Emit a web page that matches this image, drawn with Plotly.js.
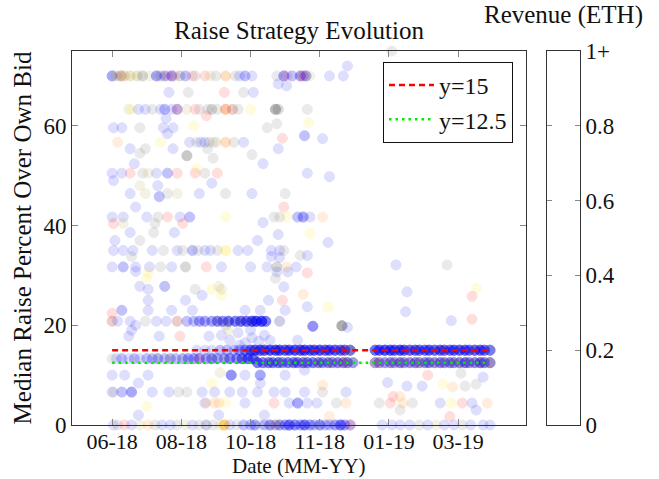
<!DOCTYPE html>
<html><head><meta charset="utf-8">
<script src="https://cdn.plot.ly/plotly-3.0.1.min.js"></script>
<style>html,body{margin:0;padding:0;background:#fff}#chart{width:659px;height:479px}</style>
</head><body><div id="chart"></div>
<script>
// ---------- axis / tick data ----------
const xTickDates  = ["2018-06-25","2018-08-14","2018-10-03","2018-11-22","2019-01-11","2019-03-02"];
const xTickLabels = ["06-18","08-18","10-18","11-18","01-19","03-19"];
const yTickValues = [0,20,40,60];
const revTickValues = [0,0.2,0.4,0.6,0.8,1];
const revTickLabels = ["0","0.2","0.4","0.6","0.8","1+"];
const refLevels = [15, 12.5];
const refNames  = ["y=15","y=12.5"];
const refSpan   = ["2018-06-25","2019-03-25"];

// ---------- bids on repeated levels: [date, revenue (ETH), number of bids] ----------
const row70 = [["2018-06-25",0.02,3],["2018-06-28",0.42,2],["2018-07-01",0.3,2],["2018-07-02",0.98,1],["2018-07-04",0.42,2],["2018-07-08",0.42,2],["2018-07-13",0.42,2],["2018-07-17",0.3,2],["2018-07-22",0.42,1],["2018-07-27",0.02,3],["2018-07-30",0.3,2],["2018-08-02",0.02,2],["2018-08-04",0.98,1],["2018-08-07",0.02,3],["2018-08-09",0.98,1],["2018-08-13",0.3,2],["2018-08-17",0.02,2],["2018-08-22",0.98,1],["2018-08-24",0.3,1],["2018-08-31",0.98,1],["2018-09-04",0.42,1],["2018-09-08",0.3,1],["2018-09-15",0.75,2],["2018-09-22",0.3,1],["2018-09-25",0.02,1],["2018-09-29",0.02,2],["2018-10-04",0.02,1],["2018-10-22",0.3,1],["2018-10-27",0.02,3],["2018-10-29",0.98,1],["2018-11-02",0.02,2],["2018-11-08",0.02,3],["2018-11-10",0.98,2],["2018-11-12",0.02,3],["2018-11-15",0.42,1],["2018-11-29",0.02,1],["2018-12-09",0.02,1]];
const row63 = [["2018-07-07",0.42,1],["2018-07-09",0.55,1],["2018-07-14",0.02,1],["2018-07-19",0.02,1],["2018-07-24",0.3,1],["2018-07-30",0.02,1],["2018-08-02",0.02,2],["2018-08-07",0.02,1],["2018-08-11",0.02,2],["2018-08-11",0.98,1],["2018-08-18",0.42,1],["2018-08-24",0.98,1],["2018-08-27",0.3,1],["2018-09-02",0.3,1],["2018-09-05",0.3,2],["2018-09-09",0.3,1],["2018-09-15",0.75,2],["2018-09-15",0.98,1],["2018-09-20",0.98,1],["2018-09-20",0.3,1],["2018-09-24",0.3,1],["2018-10-03",0.55,1],["2018-10-21",0.3,4],["2018-10-23",0.3,2],["2018-11-13",0.3,1]];
const row57 = [["2018-06-29",0.75,1],["2018-07-30",0.55,1],["2018-08-20",0.02,1],["2018-08-25",0.3,1],["2018-08-28",0.02,1],["2018-08-31",0.02,1],["2018-09-03",0.3,1],["2018-09-06",0.42,1],["2018-09-08",0.3,1],["2018-09-15",0.75,2],["2018-09-21",0.3,1],["2018-09-28",0.02,1]];
const row50 = [["2018-06-25",0.02,1],["2018-07-02",0.02,1],["2018-07-08",0.98,1],["2018-07-17",0.3,1],["2018-07-21",0.42,1],["2018-07-27",0.02,1],["2018-08-04",0.02,2],["2018-08-11",0.98,1],["2018-08-24",0.98,1],["2018-08-31",0.3,1],["2018-09-09",0.98,1],["2018-11-13",0.02,1]];
const row42 = [["2018-06-25",0.02,1],["2018-07-03",0.02,1],["2018-07-20",0.02,1],["2018-07-28",0.3,1],["2018-08-04",0.98,1],["2018-08-13",0.02,1],["2018-08-20",0.02,2],["2018-09-15",0.55,1],["2018-10-20",0.3,1],["2018-10-24",0.3,1],["2018-10-29",0.55,1],["2018-11-06",0.02,2],["2018-11-10",0.02,3],["2018-11-15",0.02,1],["2018-11-24",0.75,1]];
const row35 = [["2018-06-26",0.02,1],["2018-07-03",0.02,1],["2018-07-10",0.02,1],["2018-07-24",0.02,1],["2018-08-01",0.3,1],["2018-08-11",0.02,1],["2018-08-15",0.3,1],["2018-08-22",0.02,2],["2018-08-26",0.3,1],["2018-08-31",0.02,1],["2018-09-04",0.02,1],["2018-09-09",0.3,1],["2018-09-15",0.55,2],["2018-09-24",0.02,1],["2018-10-01",0.02,1],["2018-10-18",0.02,1],["2018-10-24",0.02,1],["2018-10-27",0.3,1]];
const row32 = [["2018-06-25",0.02,1],["2018-07-03",0.02,2],["2018-07-12",0.02,1],["2018-07-22",0.02,1],["2018-07-30",0.3,1],["2018-08-07",0.02,1],["2018-08-17",0.3,2],["2018-09-01",0.98,1],["2018-09-12",0.02,1],["2018-10-03",0.02,1],["2018-10-15",0.02,1],["2018-10-22",0.3,2],["2018-10-29",0.75,1],["2018-11-05",0.02,1]];
const row21 = [["2018-06-25",0.98,1],["2018-06-25",0.3,1],["2018-06-29",0.02,1],["2018-07-08",0.02,1],["2018-07-19",0.3,1],["2018-07-27",0.02,1],["2018-08-03",0.02,1],["2018-08-11",0.3,1],["2018-08-11",0.98,1],["2018-08-18",0.02,2],["2018-08-23",0.02,2],["2018-08-27",0.02,3],["2018-08-31",0.02,3],["2018-09-05",0.02,3],["2018-09-09",0.02,4],["2018-09-09",0.3,1],["2018-09-13",0.02,4],["2018-09-17",0.02,5],["2018-09-17",0.3,1],["2018-09-22",0.02,5],["2018-09-26",0.02,6],["2018-09-26",0.42,1],["2018-09-30",0.02,6],["2018-10-04",0.02,7],["2018-10-04",0.3,1],["2018-10-07",0.02,8],["2018-10-11",0.02,8],["2018-10-14",0.02,5],["2018-10-24",0.02,1],["2018-10-24",0.3,1]];
const row15 = [["2018-08-25",0.02,1],["2018-08-31",0.02,1],["2018-09-05",0.02,1],["2018-09-11",0.02,2],["2018-09-16",0.02,2],["2018-09-21",0.02,2],["2018-09-25",0.02,3],["2018-09-29",0.02,4],["2018-10-03",0.02,6],["2018-10-06",0.02,7],["2018-10-06",0.3,1],["2018-10-10",0.02,8],["2018-10-13",0.02,8],["2018-10-13",0.75,1],["2018-10-17",0.02,8],["2018-10-21",0.02,8],["2018-10-21",0.3,1],["2018-10-24",0.02,8],["2018-10-28",0.02,7],["2018-10-28",0.42,1],["2018-10-31",0.02,7],["2018-11-04",0.02,8],["2018-11-08",0.02,8],["2018-11-08",0.75,1],["2018-11-11",0.02,8],["2018-11-15",0.02,7],["2018-11-18",0.02,7],["2018-11-18",0.3,1],["2018-11-22",0.02,8],["2018-11-26",0.02,7],["2018-11-26",0.75,1],["2018-11-29",0.02,7],["2018-12-03",0.02,7],["2018-12-07",0.02,6],["2018-12-07",0.3,1],["2018-12-10",0.02,6],["2018-12-10",0.98,1],["2018-12-14",0.02,5],["2018-12-14",0.3,2],["2019-01-01",0.02,6],["2019-01-04",0.02,7],["2019-01-08",0.02,8],["2019-01-12",0.02,8],["2019-01-15",0.02,7],["2019-01-19",0.02,8],["2019-01-19",0.3,1],["2019-01-22",0.02,7],["2019-01-26",0.02,7],["2019-01-26",0.75,1],["2019-01-30",0.02,7],["2019-02-02",0.02,6],["2019-02-02",0.3,1],["2019-02-06",0.02,6],["2019-02-09",0.02,7],["2019-02-13",0.02,6],["2019-02-13",0.3,1],["2019-02-17",0.02,7],["2019-02-20",0.02,6],["2019-02-20",0.98,1],["2019-02-24",0.02,6],["2019-02-27",0.02,7],["2019-03-03",0.02,7],["2019-03-03",0.3,1],["2019-03-07",0.02,7],["2019-03-10",0.02,6],["2019-03-14",0.02,7],["2019-03-14",0.75,1],["2019-03-18",0.02,7],["2019-03-21",0.02,6],["2019-03-25",0.02,5],["2019-03-25",0.3,1]];
const row13 = [["2018-06-25",0.3,1],["2018-06-28",0.02,1],["2018-07-02",0.02,2],["2018-07-07",0.02,1],["2018-07-11",0.02,2],["2018-07-15",0.02,1],["2018-07-20",0.02,2],["2018-07-24",0.02,2],["2018-07-28",0.02,2],["2018-07-28",0.3,1],["2018-08-02",0.02,2],["2018-08-06",0.02,2],["2018-08-06",0.42,1],["2018-08-10",0.02,2],["2018-08-15",0.02,2],["2018-08-15",0.3,1],["2018-08-19",0.02,3],["2018-08-23",0.02,3],["2018-08-27",0.02,3],["2018-08-27",0.98,1],["2018-09-01",0.02,3],["2018-09-05",0.02,3],["2018-09-05",0.3,1],["2018-09-09",0.02,3],["2018-09-14",0.02,3],["2018-09-14",0.42,1],["2018-09-18",0.02,4],["2018-09-23",0.02,4],["2018-09-27",0.02,5],["2018-09-27",0.3,1],["2018-10-01",0.02,6],["2018-10-05",0.02,6]];
const row12 = [["2018-10-08",0.02,5],["2018-10-08",0.3,1],["2018-10-12",0.02,5],["2018-10-16",0.02,5],["2018-10-16",0.75,1],["2018-10-19",0.02,5],["2018-10-23",0.02,5],["2018-10-23",0.3,1],["2018-10-26",0.02,4],["2018-10-26",0.42,1],["2018-10-30",0.02,5],["2018-11-03",0.02,4],["2018-11-03",0.3,2],["2018-11-06",0.02,5],["2018-11-10",0.02,5],["2018-11-10",0.75,1],["2018-11-13",0.02,4],["2018-11-13",0.3,1],["2018-11-17",0.02,5],["2018-11-21",0.02,4],["2018-11-21",0.75,1],["2018-11-21",0.3,1],["2018-11-24",0.02,4],["2018-11-28",0.02,4],["2018-11-28",0.3,1],["2018-12-01",0.02,4],["2018-12-01",0.75,1],["2018-12-05",0.02,4],["2018-12-05",0.3,1],["2018-12-09",0.02,4],["2018-12-09",0.98,1],["2018-12-12",0.02,4],["2018-12-12",0.3,1],["2018-12-12",0.75,1],["2018-12-16",0.02,3],["2018-12-16",0.3,1],["2019-01-01",0.02,3],["2019-01-01",0.3,1],["2019-01-01",0.75,1],["2019-01-04",0.02,3],["2019-01-04",0.98,1],["2019-01-08",0.02,3],["2019-01-08",0.3,1],["2019-01-12",0.02,4],["2019-01-12",0.75,1],["2019-01-15",0.02,3],["2019-01-15",0.3,1],["2019-01-19",0.02,4],["2019-01-19",0.98,1],["2019-01-22",0.02,3],["2019-01-22",0.3,1],["2019-01-26",0.02,4],["2019-01-26",0.75,1],["2019-01-30",0.02,4],["2019-01-30",0.3,1],["2019-02-02",0.02,3],["2019-02-02",0.75,1],["2019-02-02",0.3,1],["2019-02-06",0.02,4],["2019-02-06",0.42,1],["2019-02-09",0.02,4],["2019-02-09",0.3,1],["2019-02-13",0.02,4],["2019-02-13",0.75,1],["2019-02-17",0.02,4],["2019-02-17",0.3,1],["2019-02-20",0.02,4],["2019-02-20",0.75,1],["2019-02-24",0.02,4],["2019-02-24",0.3,1],["2019-02-27",0.02,4],["2019-02-27",0.75,1],["2019-03-03",0.02,4],["2019-03-03",0.3,1],["2019-03-03",0.42,1],["2019-03-07",0.02,5],["2019-03-07",0.3,1],["2019-03-10",0.02,4],["2019-03-10",0.75,1],["2019-03-14",0.02,4],["2019-03-14",0.3,1],["2019-03-18",0.02,5],["2019-03-18",0.98,1],["2019-03-21",0.02,4],["2019-03-21",0.3,1],["2019-03-25",0.02,4],["2019-03-25",0.75,1],["2019-03-25",0.3,1]];
const row0 = [["2018-06-26",0.02,1],["2018-06-29",0.3,1],["2018-07-04",0.98,1],["2018-07-09",0.02,1],["2018-07-15",0.42,1],["2018-07-21",0.75,1],["2018-07-26",0.3,1],["2018-07-31",0.02,1],["2018-08-06",0.02,1],["2018-08-11",0.3,1],["2018-08-17",0.42,1],["2018-08-22",0.02,1],["2018-08-27",0.3,1],["2018-09-01",0.02,1],["2018-09-01",0.3,1],["2018-09-06",0.3,1],["2018-09-11",0.42,1],["2018-09-14",0.75,3],["2018-09-14",0.55,2],["2018-09-18",0.02,1],["2018-09-23",0.3,1],["2018-09-28",0.02,2],["2018-10-03",0.02,2],["2018-10-06",0.02,3],["2018-10-10",0.3,1],["2018-10-13",0.02,2],["2018-10-17",0.02,3],["2018-10-17",0.3,1],["2018-10-21",0.02,2],["2018-10-21",0.75,1],["2018-10-24",0.3,2],["2018-10-24",0.02,2],["2018-10-28",0.02,3],["2018-10-31",0.02,5],["2018-11-04",0.02,4],["2018-11-08",0.02,3],["2018-11-11",0.02,5],["2018-11-15",0.02,3],["2018-11-18",0.02,2],["2018-11-22",0.02,3],["2018-11-22",0.3,1],["2018-11-26",0.02,2],["2018-11-29",0.02,2],["2018-12-03",0.02,3],["2018-12-07",0.02,5],["2018-12-10",0.02,3],["2018-12-14",0.02,2],["2018-12-14",0.98,1],["2019-01-06",0.02,1],["2019-01-13",0.02,1],["2019-01-19",0.02,1],["2019-01-26",0.02,1],["2019-02-02",0.3,1],["2019-02-08",0.02,1],["2019-02-14",0.42,1],["2019-02-20",0.02,1],["2019-02-27",0.02,1],["2019-03-05",0.3,1],["2019-03-11",0.02,1],["2019-03-20",0.02,1],["2019-03-25",0.02,1]];
const rowLevels = [70, 63.3, 56.7, 50.5, 41.7, 35, 31.7, 20.8, 15, 13.3, 12.5, 0];

// ---------- scattered bids: [date, raise %, revenue (ETH), number of bids] ----------
const scattered = [
["2018-12-12",72,0.02,1],["2019-01-13",75,0.3,1],["2018-08-05",66.7,0.02,1],["2018-08-19",66.7,0.3,1],["2018-09-14",66.7,0.98,1],["2018-09-28",66.7,0.3,1],["2018-10-05",66.7,0.02,1],["2018-10-23",68.4,0.02,1],["2018-10-29",68,0.02,1],
["2018-09-01",62,0.98,1],["2018-08-03",61.5,0.02,1],["2018-06-26",59.6,0.02,1],["2018-07-02",59.6,0.02,1],["2018-07-15",59.6,0.3,1],["2018-08-01",59.6,0.02,1],["2018-08-08",59.6,0.02,1],["2018-08-23",60,0.55,1],["2018-10-15",59.6,0.3,1],["2018-10-22",60.4,0.3,1],["2018-11-14",60.6,0.55,1],
["2018-08-04",58.4,0.02,1],["2018-10-26",57.5,0.98,1],["2018-11-11",58,0.02,2],["2018-11-24",57.4,0.02,1],["2018-07-08",55.4,0.02,1],["2018-07-19",55.4,0.3,1],["2018-08-08",55.4,0.02,1],["2018-09-02",55.4,0.3,1],["2018-10-23",55.4,0.02,1],
["2018-08-18",54,0.3,3],["2018-07-15",54.5,0.3,1],["2018-09-06",53.5,0.3,1],["2018-10-04",54.2,0.3,1],["2018-10-12",52.4,0.02,1],["2018-07-11",52.4,0.02,1],["2018-08-25",51.4,0.55,1],["2018-11-29",49.8,0.02,1],
["2018-06-26",49,0.02,1],["2018-09-05",48.5,0.02,1],["2018-07-15",48,0.42,1],["2018-07-28",48,0.02,1],["2018-07-08",46.4,0.02,1],["2018-07-19",46.4,0.42,1],["2018-07-29",45.8,0.02,2],["2018-08-04",46.4,0.3,1],["2018-08-11",46.4,0.42,1],["2018-08-27",46.4,0.02,1],["2018-09-15",46.4,0.3,1],["2018-10-04",46.4,0.02,1],["2018-10-28",46.4,0.3,1],
["2018-07-12",43.7,0.02,1],["2018-10-27",43.7,0.98,1],["2018-06-26",40.4,0.98,1],["2018-07-03",40.4,0.42,1],["2018-07-26",40.4,0.3,1],["2018-08-15",40.4,0.98,1],["2018-10-12",40.6,0.02,1],
["2018-07-08",38.6,0.02,1],["2018-07-25",38.6,0.3,1],["2018-08-09",38.6,0.02,1],["2018-10-23",38.2,0.02,1],["2018-11-15",38.4,0.55,1],["2018-06-27",37,0.02,1],["2018-07-15",37,0.3,1],["2018-10-08",37,0.02,1],["2018-11-28",36.6,0.02,1],
["2018-10-24",33.6,0.02,1],["2018-11-08",34,0.3,1],["2018-11-13",34,0.02,1],["2018-07-09",33.8,0.3,1],["2018-10-18",33.8,0.02,1],["2018-07-12",30.8,0.02,1],["2018-07-21",30.5,0.55,1],["2018-10-22",30.7,0.02,1],["2018-10-30",30.7,0.02,1],["2018-11-13",30.5,0.98,1],
["2018-07-20",29.4,0.55,1],["2018-10-21",29.4,0.3,1],["2018-07-15",27.8,0.02,1],["2018-08-02",27.8,0.02,2],["2018-09-10",27.8,0.42,1],["2018-10-27",27.7,0.02,1],["2018-11-10",26.2,0.75,1],["2018-07-21",27.2,0.02,1],["2018-08-24",27.2,0.3,1],["2018-09-05",27.2,0.55,1],["2018-09-12",27.2,0.42,1],
["2018-08-29",26,0.02,1],["2018-09-12",26,0.55,1],["2018-07-21",25,0.02,1],["2018-08-17",25,0.02,1],["2018-10-16",25,0.02,1],["2018-10-26",25,0.98,1],
["2018-07-02",23,0.02,2],["2018-07-21",23,0.02,1],["2018-08-07",23,0.02,1],["2018-08-22",23,0.02,1],["2018-09-29",23,0.02,1],["2018-10-10",23,0.02,1],["2018-10-28",23,0.02,1],["2018-11-13",23.7,0.02,1],["2018-11-28",23.6,0.55,1],["2018-06-25",22.4,0.98,1],
["2019-01-16",32.1,0.02,1],["2019-02-22",32.1,0.3,1],["2019-01-24",26.7,0.02,1],["2019-03-15",27.4,0.55,1],["2019-03-12",25.8,0.98,1],["2019-01-23",22.7,0.02,1],["2019-02-25",20.9,0.02,1],["2019-03-12",21.2,0.98,1],
["2018-11-17",19.8,0.02,4],["2018-12-08",19.9,0.3,5],["2018-12-12",19.6,0.02,1],["2018-07-12",20,0.02,1],["2018-09-15",20,0.3,1],["2018-07-09",19,0.02,1],["2018-07-07",17.8,0.02,1],["2018-07-29",17.8,0.02,1],["2018-08-13",17.8,0.98,1],["2018-09-03",17.8,0.02,1],["2018-11-06",17,0.02,1],
["2018-09-12",18,0.02,1],["2018-09-18",17,0.02,1],["2018-09-24",18.5,0.02,1],["2018-09-29",16.5,0.02,1],["2018-10-04",17.5,0.02,1],["2018-10-09",16.8,0.02,1],["2018-10-13",18,0.02,1],["2018-10-17",17,0.02,1],["2018-09-25",16,0.02,1],["2018-09-17",19,0.42,1],["2018-10-03",19,0.02,1],
["2018-06-25",10,0.02,1],["2018-07-04",10,0.02,1],["2018-07-21",10,0.02,1],["2018-09-19",10,0.02,4],["2018-09-29",10,0.02,1],["2018-10-10",10,0.02,3],["2018-10-28",10,0.02,1],["2018-09-11",10.5,0.42,1],["2018-11-11",11,0.02,1],["2019-02-08",10,0.98,1],["2019-03-04",10.4,0.3,1],["2019-03-20",9.6,0.02,1],
["2018-07-14",8.4,0.02,1],["2018-09-05",8.4,0.55,1],["2018-10-10",8.4,0.02,1],["2018-11-24",8,0.75,1],["2019-01-10",8.5,0.02,1],["2019-01-24",7.8,0.02,1],["2019-02-04",7.8,0.02,1],["2019-02-19",8.2,0.55,1],["2019-02-26",7.6,0.75,1],["2019-03-07",7.8,0.3,1],["2019-03-15",8.2,0.3,1],
["2018-06-25",6.6,0.02,1],["2018-06-26",6.6,0.3,1],["2018-07-02",6.6,0.02,2],["2018-07-09",6.6,0.02,3],["2018-07-24",6.6,0.02,1],["2018-08-05",6.6,0.02,1],["2018-08-12",6.6,0.3,1],["2018-08-18",6.6,0.3,1],["2018-08-29",6.6,0.02,1],["2018-09-07",6.6,0.02,1],["2018-09-18",6.6,0.02,1],["2018-09-27",6.6,0.02,1],["2018-10-08",6.6,0.02,1],["2018-10-20",6.6,0.02,1],["2018-10-28",6.6,0.02,1],["2018-11-11",6.6,0.02,1],["2018-11-24",6.6,0.3,1],["2018-12-11",6.6,0.02,1],
["2018-08-31",4.4,0.02,1],["2018-09-01",4.4,0.75,1],["2018-09-07",4.4,0.75,1],["2018-09-10",4.4,0.75,1],["2018-09-15",4.4,0.55,1],["2018-09-29",4.4,0.02,1],["2018-10-20",4.4,0.98,1],["2018-10-31",4.4,0.02,1],["2018-11-06",4.4,0.02,3],["2018-11-13",4.4,0.02,1],["2018-11-20",4.4,0.02,1],["2018-12-04",4.4,0.3,1],["2018-12-11",4.4,0.75,1],
["2019-01-04",4.4,0.3,1],["2019-01-12",4.4,0.98,1],["2019-01-21",4.4,0.75,1],["2019-01-28",4.4,0.3,1],["2019-02-17",4.4,0.02,1],["2019-02-25",4.4,0.55,1],["2019-03-05",4.4,0.98,1],["2019-03-12",4.4,0.02,1],["2019-03-23",4.4,0.75,1],
["2018-07-20",3.7,0.55,1],["2019-01-14",5.7,0.98,1],["2019-01-19",5.7,0.75,1],["2018-07-14",2,0.02,1],["2018-09-10",2,0.02,1],["2018-10-13",2,0.02,1],["2019-01-19",3,0.3,1],["2019-03-15",3,0.02,1],["2019-02-24",1.7,0.98,1],["2018-11-29",1.7,0.75,1]
];

// ---------- build marker arrays ----------
const bidX = [], bidY = [], bidRev = [];
function pushBid(d, v, rev, n) { for (let k = 0; k < n; k++) { bidX.push(d); bidY.push(v); bidRev.push(rev); } }
const levelRows = [row70, row63, row57, row50, row42, row35, row32, row21, row15, row13, row12, row0];
levelRows.forEach((rows, i) => rows.forEach(([d, rev, n]) => pushBid(d, rowLevels[i], rev, n)));
scattered.forEach(([d, v, rev, n]) => pushBid(d, v, rev, n));

const revScale = [[0,'rgb(0,0,255)'],[0.3,'rgb(100,100,100)'],[0.55,'rgb(255,225,0)'],[0.75,'rgb(255,130,0)'],[1,'rgb(255,0,0)']];
const FONT = '"Liberation Serif", "DejaVu Serif", serif';
const TICK_FS = 23, XTICK_FS = 22, TITLE_FS = 25, XTITLE_FS = 21, LEGEND_FS = 24;

const traces = [
  {type:'scatter', mode:'markers', x:bidX, y:bidY, showlegend:false, hoverinfo:'x+y', cliponaxis:false,
   marker:{size:10, opacity:0.13, color:bidRev, cmin:0, cmax:1, colorscale:revScale, showscale:false,
           line:{width:1, color:bidRev, cmin:0, cmax:1, colorscale:revScale}}},
  {type:'scatter', mode:'lines', name:refNames[0], x:refSpan, y:[refLevels[0], refLevels[0]],
   line:{color:'rgb(255,0,0)', width:2.5, dash:'6px,4px'}},
  {type:'scatter', mode:'lines', name:refNames[1], x:refSpan, y:[refLevels[1], refLevels[1]],
   line:{color:'rgb(0,235,0)', width:2.5, dash:'2.5px,4px'}},
  {type:'scatter', mode:'markers', x:[], y:[], xaxis:'x2', yaxis:'y2', showlegend:false, hoverinfo:'skip'}
];

const layout = {
  width:659, height:479,
  margin:{l:72, r:79, t:51, b:54, pad:0},
  paper_bgcolor:'#fff', plot_bgcolor:'#fff',
  font:{family:FONT, size:TICK_FS, color:'#111'},
  title:{text:'Raise Strategy Evolution', font:{family:FONT, size:TITLE_FS, color:'#111'},
         x:299/659, xanchor:'center', y:1-30/479, yanchor:'middle', xref:'container', yref:'container'},
  xaxis:{type:'date', domain:[0, 454/508], range:['2018-05-27','2019-04-20'],
         tickvals:xTickDates, ticktext:xTickLabels, ticks:'inside', ticklen:6, tickcolor:'#888', tickwidth:1,
         showline:true, linecolor:'#333', linewidth:1, mirror:'allticks', showgrid:false, zeroline:false,
         ticklabelstandoff:-3, tickfont:{family:FONT, size:XTICK_FS}, anchor:'y'},
  yaxis:{domain:[0,1], range:[0,75], tickvals:yTickValues, ticks:'inside', ticklen:6, tickcolor:'#888', tickwidth:1,
         showline:true, linecolor:'#333', linewidth:1, mirror:'allticks', showgrid:false, zeroline:false,
         tickfont:{family:FONT, size:TICK_FS}, title:{text:'Median Raise Percent Over Own Bid', font:{family:FONT, size:TITLE_FS}, standoff:4}, anchor:'x'},
  xaxis2:{domain:[475/508, 1], range:[0,1], showticklabels:false, ticks:'', showline:true, linecolor:'#333',
          linewidth:1, mirror:true, showgrid:false, zeroline:false, anchor:'y2', fixedrange:true},
  yaxis2:{domain:[0,1], range:[0,1], side:'right', anchor:'x2', tickvals:revTickValues, ticktext:revTickLabels,
          ticks:'inside', ticklen:5, tickcolor:'#888', showline:true, linecolor:'#333', linewidth:1,
          mirror:'allticks', showgrid:false, zeroline:false, tickfont:{family:FONT, size:TICK_FS}, fixedrange:true},
  annotations:[
    {text:'Revenue (ETH)', xref:'paper', yref:'paper', x:(563-72)/508, y:1+(51-15)/374,
     xanchor:'center', yanchor:'middle', showarrow:false, font:{family:FONT, size:TITLE_FS, color:'#111'}},
    {text:'Date (MM-YY)', xref:'paper', yref:'paper', x:(299-72)/508, y:(425-466)/374,
     xanchor:'center', yanchor:'middle', showarrow:false, borderpad:0, font:{family:FONT, size:XTITLE_FS, color:'#111'}}
  ],
  legend:{x:(513-72)/508, xanchor:'right', y:(425-62)/374, yanchor:'top', bgcolor:'#fff', bordercolor:'#111',
          borderwidth:1, font:{family:FONT, size:LEGEND_FS}, tracegroupgap:0, itemwidth:45}
};

Plotly.newPlot('chart', traces, layout, {displayModeBar:false, staticPlot:true});
</script>
</body></html>
